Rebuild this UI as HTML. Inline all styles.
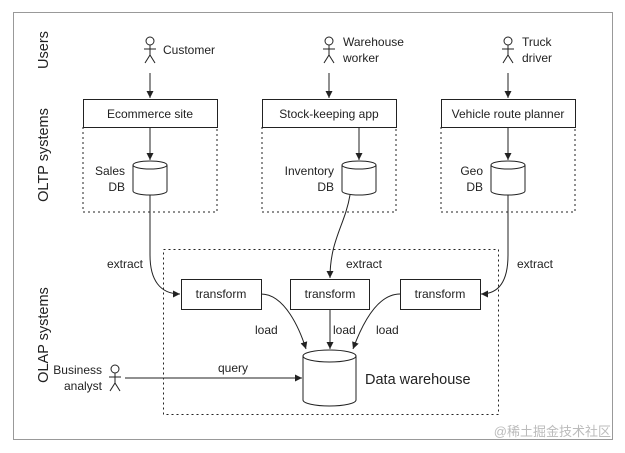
<!DOCTYPE html>
<html><head><meta charset="utf-8"><style>
html,body{margin:0;padding:0;background:#fff;}
svg{display:block;}
text{font-family:"Liberation Sans","Noto Sans CJK SC",sans-serif;font-size:12px;fill:#222;}
</style></head><body>
<svg width="625" height="453" viewBox="0 0 625 453" xmlns="http://www.w3.org/2000/svg">
<defs>
<marker id="a" markerWidth="8" markerHeight="8" refX="7" refY="4" orient="auto" markerUnits="userSpaceOnUse">
<path d="M0,0.5 L7,4 L0,7.5 z" fill="#222"/></marker>
<g id="actor" fill="none" stroke="#222" stroke-width="1">
<circle cx="0" cy="4" r="4"/><line x1="0" y1="8" x2="0" y2="18"/><line x1="-6" y1="12" x2="6" y2="12"/>
<line x1="0" y1="18" x2="-5" y2="26"/><line x1="0" y1="18" x2="5" y2="26"/></g>
</defs>
<rect x="13.5" y="12.5" width="599" height="427" fill="none" stroke="#999" stroke-width="1"/>
<g fill="none" stroke="#222" stroke-width="1">
<path d="M83,127 V212 H217 V127" stroke-dasharray="2,3"/>
<path d="M262,127 V212 H396 V127" stroke-dasharray="2,3"/>
<path d="M441,127 V212 H575 V127" stroke-dasharray="2,3"/>
<rect x="163.5" y="249.5" width="335" height="165" stroke-dasharray="2,3"/>
<rect x="83.5" y="99.5" width="134" height="28"/>
<rect x="262.5" y="99.5" width="134" height="28"/>
<rect x="441.5" y="99.5" width="134" height="28"/>
<rect x="181.5" y="279.5" width="80" height="30"/>
<rect x="290.5" y="279.5" width="79" height="30"/>
<rect x="400.5" y="279.5" width="80" height="30"/>
<line x1="150" y1="73" x2="150" y2="98" marker-end="url(#a)"/>
<line x1="329" y1="73" x2="329" y2="98" marker-end="url(#a)"/>
<line x1="508" y1="73" x2="508" y2="98" marker-end="url(#a)"/>
<line x1="150" y1="127" x2="150" y2="160" marker-end="url(#a)"/>
<line x1="359" y1="127" x2="359" y2="160" marker-end="url(#a)"/>
<line x1="508" y1="127" x2="508" y2="160" marker-end="url(#a)"/>
<path d="M133,165 V191 A17,4 0 0 0 167,191 V165"/><ellipse cx="150" cy="165" rx="17" ry="4"/>
<path d="M342,165 V191 A17,4 0 0 0 376,191 V165"/><ellipse cx="359" cy="165" rx="17" ry="4"/>
<path d="M491,165 V191 A17,4 0 0 0 525,191 V165"/><ellipse cx="508" cy="165" rx="17" ry="4"/>
<path d="M303,356 V400 A26.5,6 0 0 0 356,400 V356"/><ellipse cx="329.5" cy="356" rx="26.5" ry="6"/>
<path d="M150,195 V255 C150,280 160,294 180,294" marker-end="url(#a)"/>
<path d="M350,195 C345,225 330,240 330,278" marker-end="url(#a)"/>
<path d="M508,195 V255 C508,280 500,294 481,294" marker-end="url(#a)"/>
<path d="M261,294 C285,294 300,330 306,349" marker-end="url(#a)"/>
<line x1="330" y1="309" x2="330" y2="349" marker-end="url(#a)"/>
<path d="M400,294 C375,294 360,330 353,349" marker-end="url(#a)"/>
<line x1="125" y1="378" x2="302" y2="378" marker-end="url(#a)"/>
</g>
<use href="#actor" x="150" y="37"/>
<use href="#actor" x="329" y="37"/>
<use href="#actor" x="508" y="37"/>
<use href="#actor" x="115" y="365"/>
<text x="163" y="54">Customer</text>
<text x="343" y="46">Warehouse</text><text x="343" y="62">worker</text>
<text x="522" y="46">Truck</text><text x="522" y="62">driver</text>
<text x="150" y="118" text-anchor="middle">Ecommerce site</text>
<text x="329" y="118" text-anchor="middle">Stock-keeping app</text>
<text x="508" y="118" text-anchor="middle">Vehicle route planner</text>
<text x="125" y="175" text-anchor="end">Sales</text><text x="125" y="191" text-anchor="end">DB</text>
<text x="334" y="175" text-anchor="end">Inventory</text><text x="334" y="191" text-anchor="end">DB</text>
<text x="483" y="175" text-anchor="end">Geo</text><text x="483" y="191" text-anchor="end">DB</text>
<text x="107" y="268">extract</text><text x="346" y="268">extract</text><text x="517" y="268">extract</text>
<text x="221" y="298" text-anchor="middle">transform</text>
<text x="330" y="298" text-anchor="middle">transform</text>
<text x="440" y="298" text-anchor="middle">transform</text>
<text x="255" y="334">load</text><text x="333" y="334">load</text><text x="376" y="334">load</text>
<text x="102" y="374" text-anchor="end">Business</text><text x="102" y="390" text-anchor="end">analyst</text>
<text x="218" y="372">query</text>
<text x="365" y="384" style="font-size:14.5px">Data warehouse</text>
<text transform="translate(48,50) rotate(-90)" text-anchor="middle" style="font-size:14.5px">Users</text>
<text transform="translate(48,155) rotate(-90)" text-anchor="middle" style="font-size:14.5px">OLTP systems</text>
<text transform="translate(48,335) rotate(-90)" text-anchor="middle" style="font-size:14.5px">OLAP systems</text>
<text x="611" y="436" text-anchor="end" style="font-size:13px;fill:#bbb">@稀土掘金技术社区</text>
</svg>
</body></html>
